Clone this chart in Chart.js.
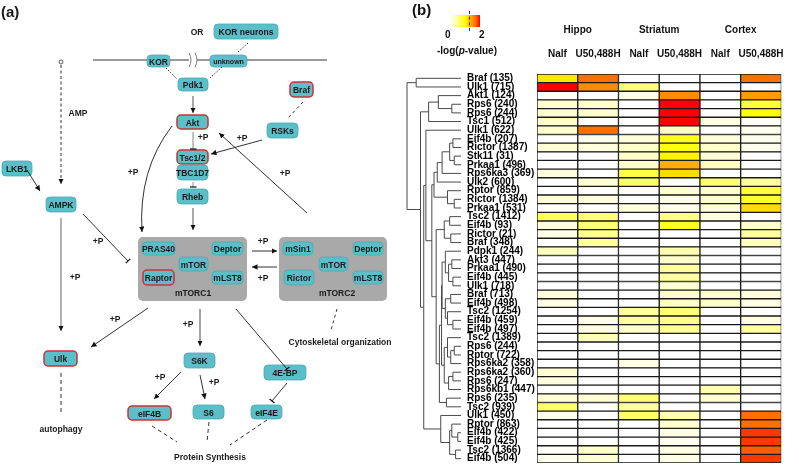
<!DOCTYPE html>
<html>
<head>
<title>mTOR pathway and phosphosite heatmap</title>
<meta charset="utf-8">
<script src="https://cdn.jsdelivr.net/npm/chart.js"></script>
<style>
  body { margin: 0; background: #fff; font-family: "Liberation Sans", Arial, sans-serif; }
  .page { position: relative; width: 799px; height: 465px; overflow: hidden; }
  #diagram { position: absolute; left: 0; top: 0; will-change: transform; }
  .heat { position: absolute; left: 400px; top: 0; width: 399px; height: 465px; }
  .lbl { position: absolute; font-weight: bold; color: #111; white-space: nowrap; }
  #scaleBar { position: absolute; left: 450px; top: 15px; width: 30px; height: 12px; }
  .cut { position: absolute; left: 469px; top: 11px; height: 20px; border-left: 1px dashed #333; }
</style>
</head>
<body>
<div class="page">
  <svg id="diagram" width="400" height="465"></svg>
  <div class="heat"><canvas id="heatmap"></canvas></div>
  <div class="lbl" style="left:412px; top:1px; font-size:15px;">(b)</div>
  <div id="scaleBar"></div>
  <div class="cut"></div>
  <div class="lbl" style="left:445px; top:29px; font-size:10px;">0</div>
  <div class="lbl" style="left:479px; top:29px; font-size:10px;">2</div>
  <div class="lbl" style="left:437px; top:45px; font-size:10px;">-log(<i>p</i>-value)</div>
</div>

<script>
// ---- heatmap data: -log(p-value) per phosphosite ----
const sites = ['Braf (135)', 'Ulk1 (715)', 'Akt1 (124)', 'Rps6 (240)', 'Rps6 (244)', 'Tsc1 (512)',
  'Ulk1 (622)', 'Eif4b (207)', 'Rictor (1387)', 'Stk11 (31)', 'Prkaa1 (496)', 'Rps6ka3 (369)',
  'Ulk2 (600)', 'Rptor (859)', 'Rictor (1384)', 'Prkaa1 (531)', 'Tsc2 (1412)', 'Eif4b (93)',
  'Rictor (21)', 'Braf (348)', 'Pdpk1 (244)', 'Akt3 (447)', 'Prkaa1 (490)', 'Eif4b (445)',
  'Ulk1 (718)', 'Braf (713)', 'Eif4b (498)', 'Tsc2 (1254)', 'Eif4b (459)', 'Eif4b (497)',
  'Tsc2 (1389)', 'Rps6 (244)', 'Rptor (722)', 'Rps6ka2 (358)', 'Rps6ka2 (360)', 'Rps6 (247)',
  'Rps6kb1 (447)', 'Rps6 (235)', 'Tsc2 (939)', 'Ulk1 (450)', 'Rptor (863)', 'Eif4b (422)',
  'Eif4b (425)', 'Tsc2 (1366)', 'Eif4b (504)'];
const regions = ['Hippo', 'Striatum', 'Cortex'];
const treatments = ['Nalf', 'U50,488H', 'Nalf', 'U50,488H', 'Nalf', 'U50,488H'];

const hippoNalf = [1.1, 2.0, 0, 0.3, 0.3, 0.3, 0.3, 0, 0.25, 0, 0, 0.2, 0, 0, 0.25,
  0, 0.7, 0.2, 0.15, 0, 0.35, 0, 0, 0, 0, 0.2, 0.15, 0, 0, 0,
  0, 0, 0, 0, 0.25, 0.2, 0, 0.25, 0.65, 0.1, 0, 0, 0, 0.05, 0.1];
const hippoU50 = [1.7, 1.55, 0, 0.3, 0.3, 0, 1.7, 0.1, 0.2, 0, 0, 0, 0.25, 0, 0.2,
  0, 0.6, 0.6, 0.5, 0.45, 0, 0, 0, 0, 0, 0, 0, 0, 0.15, 0.2,
  0.35, 0, 0, 0, 0, 0, 0, 0.25, 0, 0, 0, 0, 0, 0.3, 0.25];
const striatumNalf = [0, 0.6, 0.15, 0, 0, 0, 0, 0.2, 0.3, 0.3, 0.3, 0.75, 0.65, 0, 0,
  0.2, 0, 0, 0, 0, 0, 0, 0, 0, 0, 0, 0, 0.45, 0.45, 0.3,
  0, 0, 0, 0.15, 0, 0, 0, 0.6, 0.45, 0.65, 0, 0, 0, 0, 0];
const striatumU50 = [0, 0, 1.55, 2.0, 2.0, 2.0, 0.35, 0.9, 0.95, 1.05, 1.35, 1.15, 0, 0.3, 0.15,
  0.1, 0.55, 0.9, 0, 0, 0.4, 0.3, 0.45, 0.45, 0.3, 0.3, 0.3, 0.6, 0.55, 0.5,
  0, 0, 0, 0, 0, 0, 0, 0, 0, 0.4, 0.3, 0.15, 0.1, 0.15, 0.15];
const cortexNalf = [0, 0, 0, 0, 0, 0.15, 0, 0.2, 0.3, 0.25, 0.35, 0, 0.6, 0.3, 0.3,
  0.2, 0.2, 0, 0, 0, 0, 0, 0, 0, 0, 0.3, 0.3, 0, 0, 0,
  0, 0, 0, 0, 0, 0, 0.4, 0.25, 0, 0, 0, 0, 0, 0, 0];
const cortexU50 = [1.7, 0, 1.45, 0.8, 1.0, 0.05, 0.1, 0.1, 0.1, 0, 0, 0, 0.45, 0.8, 0.85,
  1.15, 0, 0.3, 0.45, 0.35, 0, 0, 0, 0, 0, 0.2, 0.15, 0, 0.2, 0.45,
  0, 0, 0, 0, 0, 0, 0, 0, 0, 1.7, 1.7, 1.85, 1.85, 1.75, 1.85];

// hierarchical clustering of the rows: [height, left, right], leaves are row indexes
const clA = [0.83, 0, 1];
const clAkt = [0.6, [0.42, 2, [0.17, 3, 4]], 5];
const clG1 = [0.44, [0.35, [0.21, [0.15, 7, 8], [0.125, 9, 10]], 11], 12];
const clG2 = [0.25, 13, [0.125, 14, 15]];
const clG3 = [0.31, [0.21, 16, 17], [0.19, 18, 19]];
const clG4 = [0.35, [0.29, 20, [0.23, [0.17, 21, 22], [0.15, 23, 24]]],
                    [0.29, [0.19, 25, 26], [0.25, 27, [0.15, 28, 29]]]];
const clG5 = [0.31, [0.25, 30, [0.19, [0.125, 31, 32], 33]], [0.23, [0.15, 34, 35], 36]];
const clG6 = [0.27, 37, 38];
const clMid = [0.54, [0.5, clG1, clG2], [0.46, clG3, [0.4, [0.36, clG4, clG5], clG6]]];
const clBottom = [0.375, 39, [0.21, [0.17, 40, [0.06, 41, 42]], [0.1, 43, 44]]];
const linkage = [1.0, clA, [0.75, clAkt, [0.69, [0.65, 6, clMid], clBottom]]];

// colour scale of -log(p)
const stops = [[0, [255, 255, 255]], [0.3, [255, 255, 204]], [1.0, [255, 255, 0]],
  [1.3, [255, 184, 0]], [1.7, [255, 112, 0]], [2.0, [255, 0, 0]]];
function heatColor(v) {
  for (let i = 1; i < stops.length; i++) {
    if (v <= stops[i][0]) {
      const [v0, c0] = stops[i - 1], [v1, c1] = stops[i];
      const t = (v - v0) / (v1 - v0);
      const c = c0.map((k, j) => Math.round(k + (c1[j] - k) * t));
      return 'rgb(' + c.join(',') + ')';
    }
  }
  return 'rgb(255,0,0)';
}
document.getElementById('scaleBar').style.background =
  'linear-gradient(to right, ' + stops.map(s => heatColor(Math.max(s[0], 0.08)) + ' ' + (s[0] / 2 * 100) + '%').join(', ') + ')';

const font = { family: 'Liberation Sans', size: 10, weight: 'bold' };
const columns = [hippoNalf, hippoU50, striatumNalf, striatumU50, cortexNalf, cortexU50];

const dendrogram = {
  id: 'dendrogram',
  afterDraw(chart) {
    const y = chart.scales.y, ctx = chart.ctx;
    const leafX = y.left - 6, span = 54;
    function walk(node) {
      if (typeof node === 'number') return { x: leafX, y: y.getPixelForValue(node) };
      const p = walk(node[1]), q = walk(node[2]);
      const x = leafX - node[0] * span;
      ctx.moveTo(p.x, p.y); ctx.lineTo(x, p.y); ctx.lineTo(x, q.y); ctx.lineTo(q.x, q.y);
      return { x: x, y: (p.y + q.y) / 2 };
    }
    ctx.save();
    ctx.beginPath();
    walk(linkage);
    ctx.strokeStyle = '#4a4a4a';
    ctx.lineWidth = 1;
    ctx.stroke();
    ctx.restore();
  }
};

new Chart(document.getElementById('heatmap'), {
  type: 'bar',
  data: {
    labels: sites,
    datasets: columns.map((vals, i) => ({
      label: treatments[i],
      data: vals.map(() => 1),
      backgroundColor: vals.map(heatColor),
      borderColor: '#1a1a1a',
      borderWidth: 1,
      borderSkipped: false,
      barPercentage: 1,
      categoryPercentage: 1
    }))
  },
  options: {
    indexAxis: 'y',
    responsive: true,
    maintainAspectRatio: false,
    animation: false,
    layout: { padding: { left: 67, bottom: 2 } },
    plugins: { legend: { display: false }, tooltip: { enabled: false } },
    scales: {
      x: {
        position: 'top', stacked: true, min: 0, max: 6, weight: 0,
        grid: { display: false, drawTicks: false }, border: { display: false },
        afterBuildTicks: s => { s.ticks = treatments.map((t, i) => ({ value: i + 0.5 })); },
        afterFit: s => { s.height = 30; },
        ticks: { font: font, color: '#111', padding: 14, maxRotation: 0,
                 callback: v => treatments[Math.floor(v)] }
      },
      x2: {
        position: 'top', min: 0, max: 6, weight: 1,
        grid: { display: false, drawTicks: false }, border: { display: false },
        afterBuildTicks: s => { s.ticks = regions.map((r, i) => ({ value: i * 2 + 1 })); },
        afterFit: s => { s.height = 44; },
        ticks: { font: font, color: '#111', padding: 8, maxRotation: 0,
                 callback: v => regions[(v - 1) / 2] }
      },
      y: {
        stacked: true,
        grid: { display: false, drawTicks: false }, border: { display: false },
        afterFit: s => { s.width = 70; s.paddingTop = 0; s.paddingBottom = 0; },
        ticks: { font: font, color: '#000', padding: 3, autoSkip: false, crossAlign: 'far' }
      }
    }
  },
  plugins: [dendrogram]
});

// ---- pathway diagram (panel a) ----
const NS = 'http://www.w3.org/2000/svg';
const svg = document.getElementById('diagram');
function el(tag, attrs, parent) {
  const e = document.createElementNS(NS, tag);
  for (const k in attrs) e.setAttribute(k, attrs[k]);
  (parent || svg).appendChild(e);
  return e;
}
function text(str, x, y, size, anchor) {
  const t = el('text', { x: x, y: y, 'font-size': size || 8.5, 'font-weight': 'bold',
    'font-family': 'Liberation Sans, Arial, sans-serif', 'text-anchor': anchor || 'middle',
    'dominant-baseline': 'central', fill: '#1a1a1a' });
  t.textContent = str;
  return t;
}
const defs = el('defs', {});
const arr = el('marker', { id: 'arr', viewBox: '0 0 6 6', refX: 6, refY: 3, markerWidth: 5.5, markerHeight: 5.5,
  markerUnits: 'userSpaceOnUse', orient: 'auto' }, defs);
el('path', { d: 'M0,0 L6,3 L0,6 z', fill: '#111' }, arr);
const bar = el('marker', { id: 'bar', viewBox: '0 0 2 8', refX: 1, refY: 4, markerWidth: 2, markerHeight: 7,
  markerUnits: 'userSpaceOnUse', orient: 'auto' }, defs);
el('path', { d: 'M1,0 L1,8', stroke: '#111', 'stroke-width': 1.4 }, bar);

function line(x1, y1, x2, y2, opt) {
  opt = opt || {};
  const a = { x1: x1, y1: y1, x2: x2, y2: y2, stroke: opt.color || '#1a1a1a', 'stroke-width': opt.w || 0.9 };
  if (opt.dash) a['stroke-dasharray'] = opt.dash;
  if (opt.end) a['marker-end'] = 'url(#' + opt.end + ')';
  return el('line', a);
}

// membrane
line(93, 60, 189, 60, { color: '#777', w: 1.6 });
line(197, 60, 327, 60, { color: '#777', w: 1.6 });
el('path', { d: 'M189,53 Q193,60 189,67', fill: 'none', stroke: '#777', 'stroke-width': 1 });
el('path', { d: 'M195,53 Q199,60 195,67', fill: 'none', stroke: '#777', 'stroke-width': 1 });

// complexes
el('rect', { x: 138, y: 237, width: 109, height: 64, rx: 5, fill: '#a9a9a9' });
el('rect', { x: 279, y: 237, width: 108, height: 64, rx: 5, fill: '#a9a9a9' });

const boxes = [
  ['KOR neurons', 214, 24, 64, 15], ['KOR', 147, 55, 23, 12], ['unknown', 210, 55, 37, 12, 0, 7],
  ['Pdk1', 178, 78, 30, 13], ['Akt', 177, 115, 31, 14, 1], ['Braf', 290, 82, 23, 15, 1],
  ['RSKs', 267, 123, 31, 15], ['Tsc1/2', 177, 150, 31, 14, 1], ['TBC1D7', 177, 165, 31, 15],
  ['Rheb', 177, 189, 31, 15], ['LKB1', 2, 161, 30, 15], ['AMPK', 46, 197, 30, 15],
  ['PRAS40', 142, 242, 33, 13], ['Deptor', 212, 242, 31, 13], ['mTOR', 179, 257, 29, 14],
  ['Raptor', 143, 270, 31, 15, 1], ['mLST8', 212, 271, 31, 13],
  ['mSin1', 283, 242, 30, 13], ['Deptor', 353, 242, 30, 13], ['mTOR', 319, 257, 29, 14],
  ['Rictor', 284, 270, 30, 15], ['mLST8', 353, 271, 30, 13],
  ['Ulk', 44, 351, 33, 15, 1], ['S6K', 184, 353, 31, 15], ['4E-BP', 264, 365, 42, 15],
  ['eIF4B', 128, 406, 43, 14, 1], ['S6', 193, 405, 31, 14], ['eIF4E', 251, 405, 31, 14]
];
boxes.forEach(b => {
  el('rect', { x: b[1], y: b[2], width: b[3], height: b[4], rx: 4, fill: '#5cbec8',
    stroke: b[5] ? '#cc3038' : '#4aa9b2', 'stroke-width': b[5] ? 1.5 : 0.8 });
  text(b[0], b[1] + b[3] / 2, b[2] + b[4] / 2 + 0.5, b[6] || 8.5);
});

// connectors
line(166, 68, 177, 79, { dash: '1.5,1.5' });
line(222, 67, 210, 78, { dash: '1.5,1.5' });
line(248, 43, 237, 53, { dash: '1.5,1.5' });
line(303, 102, 288, 118, { dash: '3,3' });
line(193, 96, 193, 113, { color: '#444', end: 'arr' });
line(193, 132, 193, 149, { color: '#777', end: 'bar' });
line(262, 140, 211, 154, { end: 'arr' });
line(307, 213, 219, 133, { end: 'arr' });
el('path', { d: 'M172,126 Q138,170 142,232', fill: 'none', stroke: '#1a1a1a', 'stroke-width': 0.9, 'marker-end': 'url(#arr)' });
line(193, 182, 193, 187, { color: '#888', end: 'bar' });
el('circle', { cx: 61, cy: 62, r: 2, fill: 'none', stroke: '#333', 'stroke-width': 0.8 });
line(61, 65, 61, 184, { dash: '3,2.5', end: 'arr' });
line(27, 170, 40, 191, { end: 'arr' });
line(83, 214, 128, 261, { end: 'bar' });
line(61, 218, 61, 331, { color: '#555', end: 'arr' });
line(193, 208, 193, 230, { color: '#444', end: 'arr' });
line(252, 251, 277, 251, { end: 'arr' });
line(277, 267, 252, 267, { end: 'arr' });
line(337, 309, 331, 330, { dash: '3,3' });
line(148, 308, 91, 347, { end: 'arr' });
line(61, 373, 61, 412, { dash: '4,3' });
line(200, 309, 200, 346, { color: '#333', end: 'arr' });
line(236, 309, 287, 369, { end: 'bar' });
line(181, 372, 154, 399, { end: 'arr' });
line(200, 375, 205, 399, { end: 'arr' });
line(287, 383, 272, 401, { end: 'bar' });
line(152, 426, 177, 442, { dash: '4,3' });
line(209, 422, 207, 442, { dash: '4,3' });
line(267, 420, 230, 445, { dash: '4,3' });

// labels
text('(a)', 1, 11, 15, 'start');
text('OR', 197, 32);
text('AMP', 78, 113);
[[203, 137], [242, 138], [285, 173], [133, 172], [98, 241], [263, 241], [263, 278],
 [75, 277], [115, 319], [188, 324], [160, 377], [214, 382]].forEach(p => text('+P', p[0], p[1]));
text('mTORC1', 193, 293);
text('mTORC2', 337, 293);
text('Cytoskeletal organization', 340, 342);
text('autophagy', 61, 429);
text('Protein Synthesis', 210, 457);
</script>
</body>
</html>
